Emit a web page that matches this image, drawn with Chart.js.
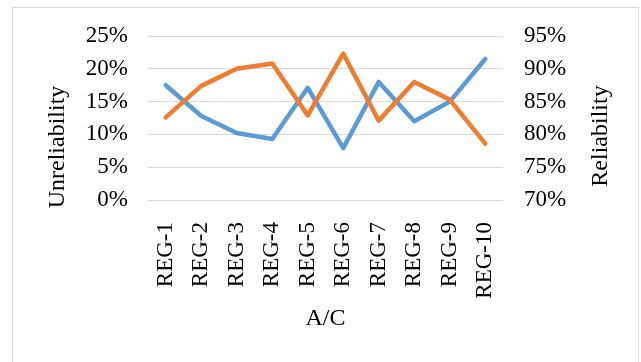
<!DOCTYPE html>
<html>
<head>
<meta charset="utf-8">
<script src="https://cdn.jsdelivr.net/npm/chart.js@4"></script>
<style>
  html, body { margin: 0; padding: 0; background: #fff; }
  #wrap { position: relative; width: 641px; height: 362px; overflow: hidden; }
  #frame { position: absolute; left: 12px; top: 7px; width: 625px; height: 400px; border: 1px solid #d9d9d9; }
  #chart { position: absolute; left: 0; top: 0; }
</style>
</head>
<body>
<div id="wrap">
  <div id="frame"></div>
  <canvas id="chart" width="641" height="362"></canvas>
</div>
<script>
// categories and values (percent)
const labels = ["REG-1", "REG-2", "REG-3", "REG-4", "REG-5", "REG-6", "REG-7", "REG-8", "REG-9", "REG-10"];
const unreliability = [17.5, 12.8, 10.2, 9.3, 17.1, 7.9, 18.0, 12.0, 15.0, 21.5];
const reliability = [82.6, 87.4, 90.0, 90.8, 82.9, 92.3, 82.1, 88.0, 85.3, 78.6];

const FONT = "'Liberation Serif', 'Times New Roman', serif";

// both y titles read bottom-to-top, so draw them by hand
const yTitles = {
    id: 'yTitles',
    afterDraw(chart) {
        const { ctx } = chart;
        ctx.save();
        ctx.font = `24px ${FONT}`;
        ctx.fillStyle = '#000';
        ctx.textAlign = 'center';
        ctx.textBaseline = 'middle';
        [["Unreliability", 58, 147], ["Reliability", 601, 136]].forEach(([t, x, y]) => {
            ctx.save();
            ctx.translate(x, y);
            ctx.rotate(-Math.PI / 2);
            ctx.fillText(t, 0, 0);
            ctx.restore();
        });
        ctx.restore();
    }
};

new Chart(document.getElementById("chart"), {
    type: "line",
    data: {
        labels: labels,
        datasets: [{
            label: "Unreliability",
            data: unreliability,
            yAxisID: "y",
            borderColor: "#5b9bd5",
            borderWidth: 4.5,
            order: 2
        }, {
            label: "Reliability",
            data: reliability,
            yAxisID: "y2",
            borderColor: "#ed7d31",
            borderWidth: 4.5,
            order: 1
        }]
    },
    options: {
        responsive: false,
        animation: false,
        layout: { padding: { top: 36, left: 0, right: 0, bottom: 0 } },
        elements: {
            point: { radius: 0 },
            line: { tension: 0, borderCapStyle: 'round', borderJoinStyle: 'round' }
        },
        plugins: { legend: { display: false }, tooltip: { enabled: false } },
        scales: {
            x: {
                offset: true,
                grid: { display: false },
                border: { display: false },
                ticks: {
                    color: '#000', font: { family: FONT, size: 23 },
                    minRotation: 90, maxRotation: 90, padding: 14, autoSkip: false
                },
                title: {
                    display: true, text: "A/C", color: '#000',
                    font: { family: FONT, size: 24 }, padding: { top: 0, bottom: 29 }
                },
                afterFit(s) { s.height = 162; }
            },
            y: {
                position: 'left',
                min: 0, max: 25,
                grid: { color: '#d9d9d9', lineWidth: 1, drawTicks: false },
                border: { display: false },
                ticks: {
                    stepSize: 5, padding: 20, color: '#000',
                    font: { family: FONT, size: 23 },
                    callback: v => v + '%'
                },
                afterFit(s) { s.width = 148; }
            },
            y2: {
                position: 'right',
                min: 70, max: 95,
                grid: { display: false, drawTicks: false },
                border: { display: false },
                ticks: {
                    stepSize: 5, padding: 21, color: '#000',
                    font: { family: FONT, size: 23 },
                    callback: v => v + '%'
                },
                afterFit(s) { s.width = 138; }
            }
        }
    },
    plugins: [yTitles]
});
</script>
</body>
</html>
